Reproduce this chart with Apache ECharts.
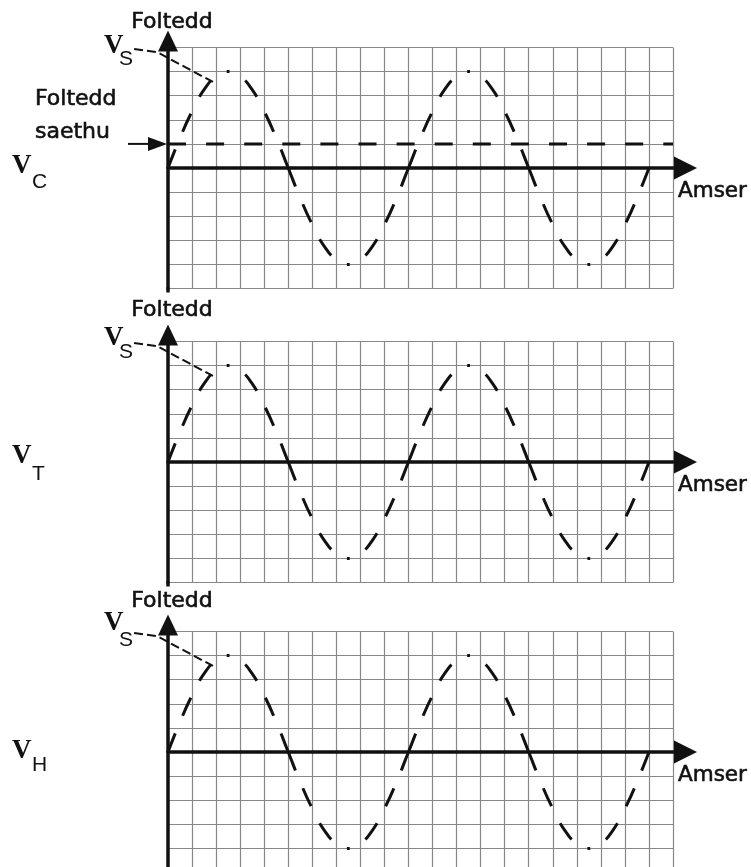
<!DOCTYPE html>
<html>
<head>
<meta charset="utf-8">
<script src="https://cdn.jsdelivr.net/npm/echarts@6/dist/echarts.min.js"></script>
<style>
  html, body { margin: 0; padding: 0; background: #ffffff; overflow: hidden; }
  #chart { width: 751px; height: 880px; }
</style>
</head>
<body>
<div id="chart"></div>
<script>
// Time, in grid divisions (half-division steps)
const time = [
  0, 0.5, 1, 1.5, 2, 2.5, 3, 3.5, 4, 4.5,
  5, 5.5, 6, 6.5, 7, 7.5, 8, 8.5, 9, 9.5,
  10, 10.5, 11, 11.5, 12, 12.5, 13, 13.5, 14, 14.5,
  15, 15.5, 16, 16.5, 17, 17.5, 18, 18.5, 19, 19.5, 20
];
// Supply voltage V_S, in grid divisions
const vs = [
  0, 1.25, 2.35, 3.25, 3.8, 4, 3.8, 3.25, 2.35, 1.25,
  0, -1.25, -2.35, -3.25, -3.8, -4, -3.8, -3.25, -2.35, -1.25,
  0, 1.25, 2.35, 3.25, 3.8, 4, 3.8, 3.25, 2.35, 1.25,
  0, -1.25, -2.35, -3.25, -3.8, -4, -3.8, -3.25, -2.35, -1.25, 0
];
// Trigger voltage level ("Foltedd saethu") on the first plot
const triggerLevel = 1;
// Subscripts of the three plotted quantities
const panelSubs = ['C', 'T', 'H'];
const axisYName = 'Foltedd';
const axisXName = 'Amser';
const triggerLines = ['Foltedd', 'saethu'];

const INK = '#111111';
const GRID = '#888888';
const HAND = '"DejaVu Sans", "Noto Sans", sans-serif';

// Layout of each plot (pixels); the last plot runs past the bottom of the page
const plotLeft = 168;
const plotWidth = 505;
const plotHeight = 241;
const layout = [
  { top: 47.5,  foltBase: 30,  vBase: 55,  sBase: 67,  qBase: 175, qsBase: 190 },
  { top: 341.5, foltBase: 318, vBase: 347, sBase: 360, qBase: 465, qsBase: 482 },
  { top: 631.5, foltBase: 609, vBase: 632, sBase: 648, qBase: 760, qsBase: 773 }
];

// Dash pattern along the sine: long dash through each zero crossing, small dot at each peak
const sineDash = [20, 19, 20, 19, 20, 18.5, 2.5, 18.5, 20, 19, 20, 19, 20, 0];

const chart = echarts.init(document.getElementById('chart'), null, { renderer: 'canvas' });

const grids = [], xAxes = [], yAxes = [], series = [];
layout.forEach((p, i) => {
  grids.push({
    left: plotLeft, top: p.top, width: plotWidth, height: plotHeight,
    show: false, containLabel: false
  });
  xAxes.push({
    gridIndex: i, type: 'value', min: 0, max: 21, interval: 1,
    axisLabel: { show: false }, axisTick: { show: false },
    axisLine: {
      show: true, onZero: true,
      lineStyle: { color: INK, width: 3.5 },
      symbol: ['none', 'triangle'], symbolSize: [23, 23], symbolOffset: [0, 12.5]
    },
    splitLine: { show: true, lineStyle: { color: GRID, width: 1.2 } }
  });
  yAxes.push({
    gridIndex: i, type: 'value', min: -5, max: 5, interval: 1,
    axisLabel: { show: false }, axisTick: { show: false },
    axisLine: {
      show: true,
      lineStyle: { color: INK, width: 3.5 },
      symbol: ['none', 'triangle'], symbolSize: [20, 21], symbolOffset: [0, 6.5]
    },
    splitLine: { show: true, lineStyle: { color: GRID, width: 1.2 } }
  });
  series.push({
    type: 'line', xAxisIndex: i, yAxisIndex: i,
    data: time.map((t, k) => [t, vs[k]]),
    smooth: true, showSymbol: false, symbol: 'none', silent: true,
    lineStyle: { color: INK, width: 3, type: sineDash, cap: 'butt' },
    z: 5, animation: false
  });
});
series.push({
  type: 'line', xAxisIndex: 0, yAxisIndex: 0,
  data: [[0, triggerLevel], [21, triggerLevel]],
  showSymbol: false, symbol: 'none', silent: true,
  lineStyle: { color: INK, width: 3, type: [18, 20.1], cap: 'butt' },
  z: 4, animation: false
});

chart.setOption({
  animation: false,
  backgroundColor: '#ffffff',
  grid: grids, xAxis: xAxes, yAxis: yAxes, series: series
});

// Annotations placed from each plot's own coordinates
const leaderPts = [[-1.41, 4.94], [-0.46, 4.81], [1.87, 3.57]];
const gfx = [];
function txt(text, x, y, font, align, heavy) {
  const style = { text: text, x: x, y: y, font: font, fill: INK, align: align || 'left', verticalAlign: 'middle' };
  if (heavy) { style.stroke = INK; style.lineWidth = 0.6; }
  gfx.push({ type: 'text', silent: true, z: 20, style: style });
}
layout.forEach((p, i) => {
  const toPx = (pt) => chart.convertToPixel({ gridIndex: i }, pt);
  const origin = toPx([0, 0]);
  const bottomPx = toPx([0, -5]);
  // short tail of the voltage axis below the plot
  gfx.push({ type: 'line', silent: true, z: 18,
    shape: { x1: origin[0], y1: bottomPx[1] - 1, x2: origin[0], y2: bottomPx[1] + 4 },
    style: { stroke: INK, lineWidth: 3.5 } });
  // axis titles
  txt(axisYName, 172, p.foltBase - 7.5, '22px ' + HAND, 'center', true);
  txt(axisXName, 678, origin[1] + 23.5, '21.5px ' + HAND, 'left', true);
  // V_S with leader to the first peak
  txt('V', 104, p.vBase - 8.5, 'bold 27px "Liberation Serif", "DejaVu Serif", serif', 'left');
  txt('S', 119, p.sBase - 7.5, '21px "Liberation Sans", Arial, sans-serif', 'left');
  gfx.push({ type: 'polyline', silent: true, z: 19,
    shape: { points: leaderPts.map(toPx) },
    style: { stroke: INK, lineWidth: 2, fill: null, lineDash: [9, 4] } });
  // quantity label on the left
  txt('V', 12, p.qBase - 8.5, 'bold 27px "Liberation Serif", "DejaVu Serif", serif', 'left');
  txt(panelSubs[i], 32, p.qsBase - 7.5, '21px "Liberation Sans", Arial, sans-serif', 'left');
});

// Trigger level pointer and its caption on the first plot
const trig = chart.convertToPixel({ gridIndex: 0 }, [0, triggerLevel]);
gfx.push({ type: 'line', silent: true, z: 19,
  shape: { x1: 128, y1: trig[1], x2: 152, y2: trig[1] },
  style: { stroke: INK, lineWidth: 2 } });
gfx.push({ type: 'polygon', silent: true, z: 19,
  shape: { points: [[148, trig[1] - 7], [trig[0] - 1, trig[1]], [148, trig[1] + 7]] },
  style: { fill: INK } });
txt(triggerLines[0], 35, 107 - 7.5, '22px ' + HAND, 'left', true);
txt(triggerLines[1], 35, 140 - 7.5, '22px ' + HAND, 'left', true);

chart.setOption({ graphic: gfx });
</script>
</body>
</html>
